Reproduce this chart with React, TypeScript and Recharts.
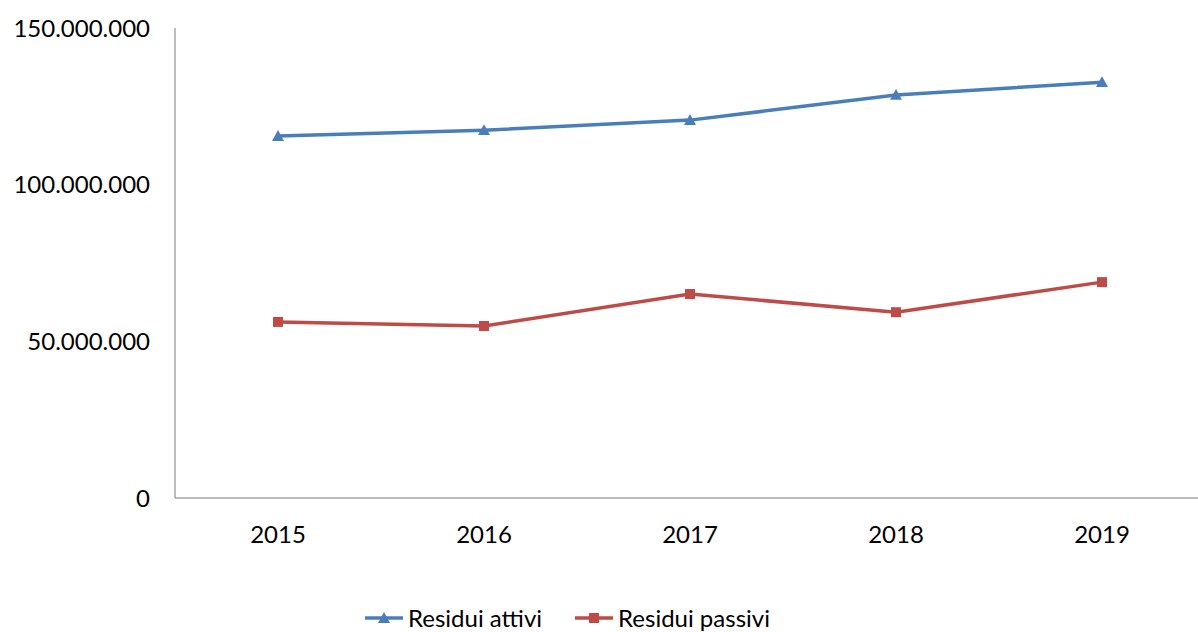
import React from "react";
import { LineChart, Line, XAxis, YAxis, Legend } from "recharts";

const years = ["2015", "2016", "2017", "2018", "2019"];
const residuiAttivi = [115500000, 117400000, 120600000, 128600000, 132700000];
const residuiPassivi = [56200000, 54900000, 65100000, 59300000, 68900000];
const yTicks = [0, 50000000, 100000000, 150000000];

const data = years.map((y, i) => ({
  year: y,
  attivi: residuiAttivi[i],
  passivi: residuiPassivi[i],
}));

const BLUE = "#4A7EBB";
const RED = "#BE4B48";
const FONT = "Lato, 'Open Sans', sans-serif";

const fmt = (v: number) => String(v).replace(/\B(?=(\d{3})+(?!\d))/g, ".");

const Triangle = (props: any) => {
  const { cx, cy, index } = props;
  if (cx == null || cy == null) return null;
  const s = 6;
  return (
    <polygon
      key={"t" + index}
      points={`${cx},${cy - s} ${cx + s},${cy + s * 0.8} ${cx - s},${cy + s * 0.8}`}
      fill={BLUE}
    />
  );
};

const Square = (props: any) => {
  const { cx, cy, index } = props;
  if (cx == null || cy == null) return null;
  const s = 5;
  return <rect key={"s" + index} x={cx - s} y={cy - s} width={2 * s} height={2 * s} fill={RED} />;
};

const LegendContent = (props: any) => {
  const { payload } = props;
  return (
    <div style={{ display: "flex", alignItems: "center", fontFamily: FONT, fontSize: 24, lineHeight: "24px", height: 24, color: "#000" }}>
      {(payload || []).map((p: any, i: number) => (
        <div key={i} style={{ display: "flex", alignItems: "center", marginRight: 32 }}>
          <svg width={40} height={16} style={{ marginRight: 4 }}>
            <line x1={1} y1={8} x2={39} y2={8} stroke={p.color} strokeWidth={3.5} />
            {p.dataKey === "attivi" ? (
              <polygon points="20,2 26,13 14,13" fill={p.color} />
            ) : (
              <rect x={15} y={3} width={10} height={10} fill={p.color} />
            )}
          </svg>
          <span>{p.value}</span>
        </div>
      ))}
    </div>
  );
};

export default function App() {
  return (
    <div style={{ position: "absolute", left: 0, top: 0, width: 1198, height: 632, overflow: "hidden", background: "#fff" }}>
      <LineChart
        width={1205}
        height={632}
        data={data}
        margin={{ top: 28, right: 0, left: 0, bottom: 50 }}
      >
        <XAxis
          dataKey="year"
          padding={{ left: 103, right: 103 }}
          axisLine={{ stroke: "#A6A6A6", strokeWidth: 1.5 }}
          tickLine={false}
          tickSize={0}
          tickMargin={28}
          tick={{ fill: "#000", fontSize: 24, fontFamily: FONT }}
          height={60}
        />
        <YAxis
          domain={[0, 150000000]}
          ticks={yTicks}
          tickFormatter={fmt}
          width={175}
          axisLine={{ stroke: "#A6A6A6", strokeWidth: 1.5 }}
          tickLine={false}
          tickSize={0}
          tickMargin={25}
          tick={{ fill: "#000", fontSize: 24, fontFamily: FONT }}
        />
        <Legend
          content={<LegendContent />}
          wrapperStyle={{ position: "absolute", left: 364, top: 606, width: 600, height: 24 }}
        />
        <Line
          type="linear"
          dataKey="attivi"
          name="Residui attivi"
          stroke={BLUE}
          strokeWidth={3.5}
          dot={<Triangle />}
          activeDot={false}
          isAnimationActive={false}
        />
        <Line
          type="linear"
          dataKey="passivi"
          name="Residui passivi"
          stroke={RED}
          strokeWidth={3.5}
          dot={<Square />}
          activeDot={false}
          isAnimationActive={false}
        />
      </LineChart>
    </div>
  );
}
